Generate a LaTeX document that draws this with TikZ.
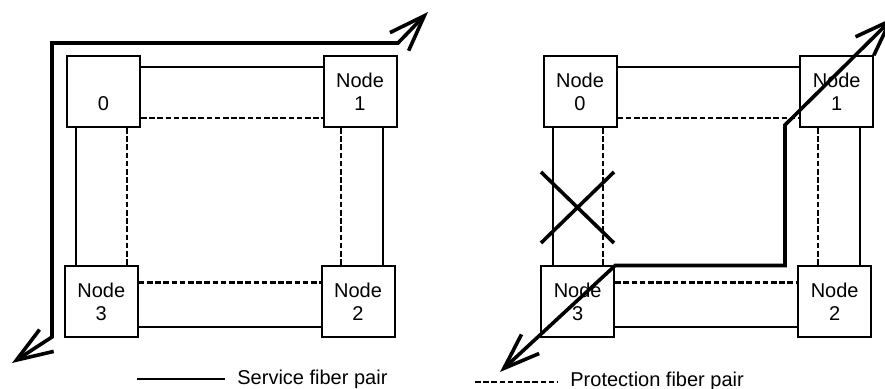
\documentclass[tikz,border=0pt]{standalone}
\usepackage{fontspec}
\setmainfont{Liberation Sans}
\usetikzlibrary{arrows.meta}
\tikzstyle{nodebox}=[rectangle,draw,line width=1pt,minimum width=36.5pt,minimum height=35.5pt,inner sep=0,align=center,font=\fontsize{10}{11.5}\selectfont]
\tikzstyle{service}=[line width=1pt]
\tikzstyle{protect}=[line width=1.1pt,dash pattern=on 2.8pt off 1.3pt]
\tikzstyle{route}=[line width=1.8pt,{Straight Barb[length=18pt,width=13pt]}-{Straight Barb[length=18pt,width=13pt]}]
\tikzstyle{cut}=[line width=1.8pt]
\tikzstyle{legend}=[anchor=base west,inner sep=0,font=\fontsize{10}{11.5}\selectfont]

\begin{document}
\begin{tikzpicture}[x=0.5pt,y=-0.5pt]
\useasboundingbox (0,0) rectangle (885,389);
% left ring
\node[nodebox] (a0) at (103.5,91.5) {\phantom{Node}\\0};
\node[nodebox] (a1) at (360,91.5) {Node\\1};
\node[nodebox] (a3) at (101.3,302) {Node\\3};
\node[nodebox] (a2) at (358,302) {Node\\2};
% right ring
\node[nodebox] (b0) at (580,91.5) {Node\\0};
\node[nodebox] (b1) at (836.7,91.5) {Node\\1};
\node[nodebox] (b3) at (577.7,302) {Node\\3};
\node[nodebox] (b2) at (834.7,302) {Node\\2};
\foreach \r in {a,b}{
  \coordinate (\r t) at ([yshift=-6pt]\r0.north east);
  \coordinate (\r u) at ([yshift=5pt]\r0.south east);
  \coordinate (\r v) at ([yshift=-8.5pt]\r3.north east);
  \coordinate (\r w) at ([yshift=5.5pt]\r3.south east);
  \coordinate (\r l) at ([xshift=5pt]\r0.south west);
  \coordinate (\r m) at ([xshift=-7.2pt]\r0.south east);
  \coordinate (\r n) at ([xshift=9.4pt]\r1.south west);
  \coordinate (\r s) at ([xshift=-7.3pt]\r1.south east);
  \draw[service] (\r t) -- (\r t -| \r1.west);
  \draw[protect] (\r u) -- (\r u -| \r1.west);
  \draw[protect] (\r v) -- (\r v -| \r2.west);
  \draw[service] (\r w) -- (\r w -| \r2.west);
  \draw[service] (\r l) -- (\r l |- \r3.north);
  \draw[protect] (\r m) -- (\r m |- \r3.north);
  \draw[protect] (\r n) -- (\r n |- \r2.north);
  \draw[service] (\r s) -- (\r s |- \r2.north);
}
% traffic
\coordinate (ain) at (12,363);
\coordinate (aout) at (428,12);
\draw[route] (ain) -- (52,337) |- (398,43) -- (aout);
\coordinate (bin) at (500,372);
\coordinate (bout) at (894,17);
\draw[route] (bin) -- (b3.north east) -| (785,125) -- (bout);
% break
\draw[cut] (541,172) -- (614,243) (614,172) -- (541,243);
% legend
\draw[service] (137,379) -- (225,379);
\node[legend] (svc) at (237,384.5) {Service fiber pair};
\draw[protect] (475,382) -- (558,382);
\node[legend] (prot) at (570,387) {Protection fiber pair};
\end{tikzpicture}
\end{document}
